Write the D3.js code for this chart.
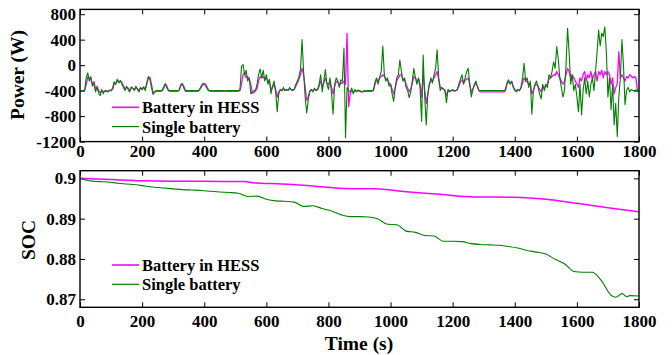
<!DOCTYPE html>
<html>
<head>
<meta charset="utf-8">
<script src="https://cdn.jsdelivr.net/npm/d3@7"></script>
<style>
  html, body { margin: 0; padding: 0; background: #fff; }
  svg { display: block; }
</style>
</head>
<body>
<svg id="chart" width="672" height="355"></svg>
<script>
// Power of the battery, sampled every 5 s from 0 to 1800 s (W)
const powerStep = 5;
const powerHess = [
  -400,-400,-400,-400,-300,-190,-200,-220,-300,-260,-380,-330,-400,-430,-400,-420,-410,-400,-410,-400,
  -400,-380,-300,-290,-240,-260,-250,-280,-320,-380,-350,-360,-400,-360,-360,-390,-350,-370,-400,-360,
  -380,-350,-370,-300,-200,-190,-300,-420,-430,-410,-410,-410,-410,-400,-360,-300,-330,-400,-410,-410,
  -410,-410,-410,-410,-390,-320,-300,-340,-410,-410,-410,-410,-410,-410,-410,-410,-410,-390,-350,-310,
  -290,-300,-350,-400,-410,-410,-410,-410,-410,-410,-410,-410,-410,-410,-410,-410,-410,-410,-410,-410,
  -410,-410,-410,-400,-300,-150,-120,-200,-180,-220,-300,-440,-430,-400,-370,-250,-180,-200,-180,-220,
  -200,-250,-260,-380,-350,-300,-380,-500,-420,-390,-400,-380,-390,-390,-390,-370,-380,-390,-380,-330,
  -280,-220,-150,-50,-150,-350,-550,-500,-420,-390,-400,-380,-390,-390,-330,-250,-330,-280,-200,-280,
  -300,-250,-350,-450,-330,-260,-260,-310,-270,-290,-250,-300,500,-650,-450,-400,-420,-400,-410,-400,
  -410,-420,-420,-410,-410,-410,-410,-410,-410,-400,-300,-230,-250,-200,-180,-150,-180,-220,-230,-280,
  -300,-380,-450,-360,-250,-200,-150,-150,-230,-220,-300,-360,-420,-380,-280,-180,-200,-250,-220,-300,
  -500,-150,-400,-600,-450,-300,-250,-250,-200,-150,-100,-220,-350,-360,-370,-390,-480,-400,-400,-400,
  -400,-400,-400,-390,-330,-260,-230,-280,-240,-220,-200,-300,-420,-380,-320,-280,-330,-400,-420,-420,
  -420,-420,-420,-420,-420,-420,-420,-420,-420,-420,-420,-420,-420,-420,-400,-300,-260,-280,-250,-330,
  -400,-400,-390,-400,-360,-280,-200,-250,-260,-300,-280,-450,-400,-320,-300,-330,-380,-420,-330,-350,
  -320,-300,-220,-200,-180,-150,-160,-100,-150,-200,-250,-300,-250,-150,-50,-100,-200,-150,-200,-250,
  -300,-350,-200,-250,-150,-100,-250,-150,-200,-100,-220,-150,-100,-250,-100,-150,-80,-200,-100,-150,
  -100,-150,-300,-200,-450,-350,-300,210,-200,-150,-200,-250,-180,-200,-150,-170,-200,-180,-200,-400,
  -400
];
const powerSingle = [
  -400,-400,-400,-390,-200,-120,-250,-180,-330,-280,-420,-350,-440,-480,-380,-450,-400,-410,-420,-390,
  -400,-360,-260,-300,-220,-280,-240,-300,-350,-400,-330,-380,-420,-340,-360,-400,-330,-380,-420,-350,
  -380,-340,-400,-280,-180,-220,-350,-460,-420,-400,-400,-400,-400,-390,-330,-290,-360,-400,-400,-400,
  -400,-400,-400,-410,-380,-300,-290,-370,-400,-400,-400,-400,-400,-400,-400,-400,-400,-380,-330,-290,
  -300,-330,-380,-400,-400,-400,-405,-400,-400,-400,-400,-400,-400,-405,-400,-400,-400,-400,-400,-400,
  -400,-400,-400,-390,-20,10,-150,-80,-250,-200,-450,-420,-400,-400,-300,-150,-60,-200,-80,-250,
  -150,-300,-220,-450,-330,-250,-420,-730,-450,-380,-400,-350,-400,-380,-400,-350,-390,-400,-380,-300,
  -250,-180,-60,400,-100,-500,-750,-550,-400,-380,-420,-360,-400,-380,-300,-150,-420,-250,-70,-300,
  -380,-200,-450,-770,-300,-200,-250,-350,-230,-250,270,-1140,-350,-400,-420,-360,-450,-380,-420,-390,
  -400,-410,-420,-400,-410,-400,-400,-400,-400,-390,-260,-200,-300,-180,-100,300,-150,-250,-200,-330,
  -300,-450,-570,-350,-200,-150,80,-100,-250,-200,-350,-400,-510,-420,-250,-50,-200,-300,-200,-350,
  -880,160,-500,-940,-450,-300,-200,-280,-150,-50,240,-200,-400,-350,-380,-400,-590,-380,-420,-400,
  -380,-410,-400,-380,-300,-220,-150,-300,-200,-100,-50,-300,-500,-380,-300,-250,-350,-400,-400,-400,
  -400,-400,-400,-400,-400,-400,-400,-400,-400,-400,-400,-400,-400,-400,-380,-280,-230,-300,-260,-350,
  -380,-420,-380,-400,-350,-200,30,-250,-200,-350,-250,-770,-400,-300,-250,-350,-450,-530,-300,-400,
  -300,-350,-150,-200,-100,50,-50,290,100,-200,-350,-500,-400,0,580,200,-300,-150,-400,-300,
  -500,-730,-300,-780,-400,-200,-450,-250,-500,-300,-200,-400,-100,200,550,300,500,450,600,200,
  -500,-200,-700,-300,-940,-600,-1120,-500,-200,400,0,-620,-400,-350,-420,-380,-400,-400,-390,-400,
  -400
];
const powerTicks = [-1200, -800, -400, 0, 400, 800];
const powerTickLabels = ["-1200", "-800", "-400", "0", "400", "800"];

// State of charge
const socHessTime = [0, 100, 200, 300, 400, 500, 530, 560, 650, 750, 850, 950, 1050, 1150, 1270, 1400, 1500, 1600, 1700, 1800];
const socHess = [0.9000, 0.8997, 0.8994, 0.8993, 0.8993, 0.8992, 0.8992, 0.8989, 0.8986, 0.8981, 0.8975, 0.8974, 0.8967, 0.8961, 0.8954, 0.8953, 0.8948, 0.8938, 0.8927, 0.8917];
const socSingleTime = [0, 30, 60, 90, 120, 150, 180, 210, 240, 270, 300, 330, 360, 390, 420, 450, 480, 510, 540, 570,
  600, 630, 660, 690, 720, 750, 780, 810, 840, 870, 900, 930, 960, 990, 1020, 1050, 1080, 1110, 1140, 1170,
  1200, 1230, 1260, 1290, 1320, 1350, 1380, 1410, 1440, 1470, 1500, 1530, 1560, 1590, 1620, 1650, 1680, 1710,
  1725, 1746, 1760, 1770, 1800];
const socSingle = [0.9000, 0.8994, 0.8992, 0.8991, 0.8988, 0.8986, 0.8984, 0.8981, 0.8978, 0.8976, 0.8974, 0.8972, 0.8971, 0.8970, 0.8968, 0.8966, 0.8965, 0.8963, 0.8955, 0.8956,
  0.8948, 0.8944, 0.8943, 0.8941, 0.8930, 0.8932, 0.8925, 0.8919, 0.8910, 0.8905, 0.8905, 0.8904, 0.8899, 0.8886, 0.8885, 0.8869, 0.8866, 0.8858, 0.8857, 0.8844,
  0.8844, 0.8843, 0.8838, 0.8836, 0.8835, 0.8834, 0.8831, 0.8827, 0.8821, 0.8817, 0.8812, 0.8799, 0.8788, 0.8769, 0.8767, 0.8767, 0.8745, 0.8710,
  0.8705, 0.8714, 0.8706, 0.8709, 0.8708];
const socTicks = [0.87, 0.88, 0.89, 0.9];
const socTickLabels = ["0.87", "0.88", "0.89", "0.9"];

const timeTicks = [0, 200, 400, 600, 800, 1000, 1200, 1400, 1600, 1800];
const seriesNames = ["Battery in HESS", "Single battery"];
const seriesColors = ["#ff00ff", "#007f00"];

const FONT = "Liberation Serif";
const svg = d3.select("#chart");
const left = 80, right = 639;

const x = d3.scaleLinear().domain([0, 1800]).range([left, right]);
const yP = d3.scaleLinear().domain([-1200, 875]).range([141.6, 9.4]);
const yS = d3.scaleLinear().domain([0.868, 0.9019]).range([307.3, 170.7]);

function styleText(sel, size) {
  sel.attr("font-family", FONT).attr("font-weight", "bold").attr("font-size", size).attr("fill", "#000");
}

function panel(y, yTicks, yLabels, id, xPad) {
  const [y0, y1] = y.range();
  const g = svg.append("g");
  g.append("clipPath").attr("id", id).append("rect")
    .attr("x", left).attr("y", y1).attr("width", right - left).attr("height", y0 - y1);

  const tl = 5;
  // x ticks, bottom and top, pointing inward
  const xa = d3.axisBottom(x).tickValues(timeTicks).tickFormat(d => String(d))
    .tickSizeInner(-tl).tickSizeOuter(0).tickPadding(xPad);
  const gx = g.append("g").attr("transform", `translate(0,${y0})`).call(xa);
  gx.select(".domain").remove();
  gx.attr("font-family", FONT);
  styleText(gx.selectAll("text"), 17);
  const gxt = g.append("g").attr("transform", `translate(0,${y1})`)
    .call(d3.axisTop(x).tickValues(timeTicks).tickSizeInner(-tl).tickSizeOuter(0).tickFormat(""));
  gxt.select(".domain").remove();

  // y ticks, left and right, pointing inward
  const ya = d3.axisLeft(y).tickValues(yTicks).tickSizeInner(-tl).tickSizeOuter(0).tickPadding(4)
    .tickFormat((d, i) => yLabels[i]);
  const gy = g.append("g").attr("transform", `translate(${left},0)`).call(ya);
  gy.select(".domain").remove();
  gy.attr("font-family", FONT);
  styleText(gy.selectAll("text"), 17);
  const gyr = g.append("g").attr("transform", `translate(${right},0)`)
    .call(d3.axisRight(y).tickValues(yTicks).tickSizeInner(-tl).tickSizeOuter(0).tickFormat(""));
  gyr.select(".domain").remove();
  g.selectAll(".tick line").attr("stroke", "#000").attr("stroke-width", 1);
  return g;
}

function frame(g, y) {
  const [y0, y1] = y.range();
  g.append("rect").attr("x", left).attr("y", y1).attr("width", right - left).attr("height", y0 - y1)
    .attr("fill", "none").attr("stroke", "#000").attr("stroke-width", 1.4);
}

function legend(g, top) {
  seriesNames.forEach((name, i) => {
    const ly = top + i * 19.3;
    g.append("line").attr("x1", 112).attr("x2", 139).attr("y1", ly).attr("y2", ly)
      .attr("stroke", seriesColors[i]).attr("stroke-width", i === 0 ? 1.6 : 1.2);
    styleText(g.append("text").attr("x", 142).attr("y", ly + 6).text(name), 16.5);
  });
}

// Top panel: power
const gp = panel(yP, powerTicks, powerTickLabels, "clipP", 3);
const linePower = d3.line().x((d, i) => x(i * powerStep)).y(d => yP(d));
[powerHess, powerSingle].forEach((s, k) => {
  gp.append("path").datum(s).attr("d", linePower).attr("fill", "none")
    .attr("stroke", seriesColors[k]).attr("stroke-width", k === 0 ? 1.3 : 1.1)
    .attr("stroke-linejoin", "round").attr("clip-path", "url(#clipP)");
});
frame(gp, yP);
legend(gp, 107.3);
styleText(gp.append("text").attr("transform", "translate(24,75) rotate(-90)")
  .attr("text-anchor", "middle").text("Power (W)"), 19.5);

// Bottom panel: state of charge
const gs = panel(yS, socTicks, socTickLabels, "clipS", 7.3);
const pairs = [[socHessTime, socHess], [socSingleTime, socSingle]];
pairs.forEach(([t, v], k) => {
  const line = d3.line().x((d, i) => x(t[i])).y(d => yS(d)).curve(d3.curveMonotoneX);
  gs.append("path").datum(v).attr("d", line).attr("fill", "none")
    .attr("stroke", seriesColors[k]).attr("stroke-width", k === 0 ? 1.5 : 1.1)
    .attr("clip-path", "url(#clipS)");
});
frame(gs, yS);
legend(gs, 265.0);
styleText(gs.append("text").attr("transform", "translate(34.5,240) rotate(-90)")
  .attr("text-anchor", "middle").text("SOC"), 19.5);
styleText(gs.append("text").attr("x", 359).attr("y", 349.5).attr("text-anchor", "middle")
  .text("Time (s)"), 19.5);
</script>
</body>
</html>
